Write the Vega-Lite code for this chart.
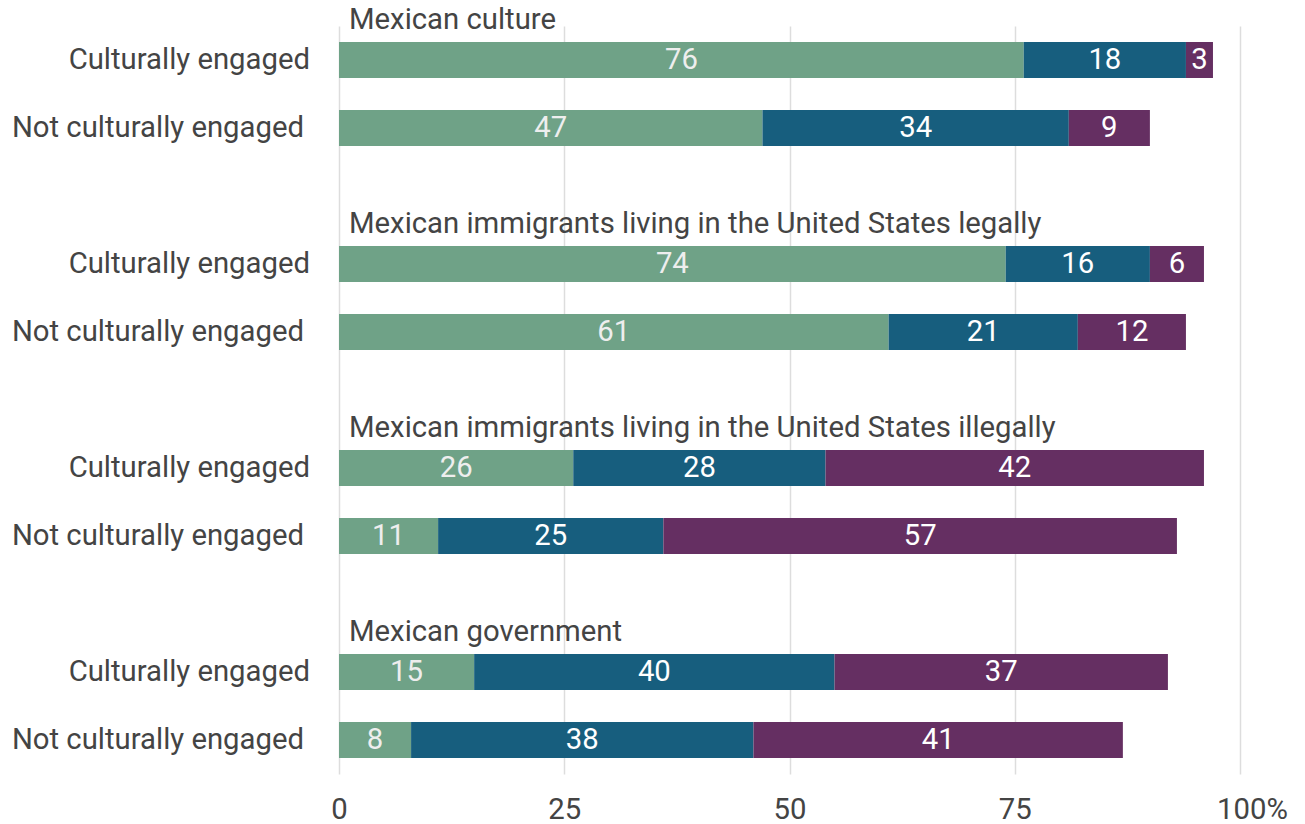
{
  "$schema": "https://vega.github.io/schema/vega-lite/v6.json",
  "width": 901,
  "height": 748,
  "autosize": "none",
  "padding": {"left": 339, "top": 26, "right": 65, "bottom": 50},
  "background": "white",
  "config": {"view": {"stroke": null}, "font": "Roboto"},
  "data": {
    "values": [
      {"group": "Mexican culture", "engagement": "Culturally engaged", "row": "Mexican culture|Culturally engaged", "response": "Favorable", "value": 76},
      {"group": "Mexican culture", "engagement": "Culturally engaged", "row": "Mexican culture|Culturally engaged", "response": "Neither", "value": 18},
      {"group": "Mexican culture", "engagement": "Culturally engaged", "row": "Mexican culture|Culturally engaged", "response": "Unfavorable", "value": 3},
      {"group": "Mexican culture", "engagement": "Not culturally engaged", "row": "Mexican culture|Not culturally engaged", "response": "Favorable", "value": 47},
      {"group": "Mexican culture", "engagement": "Not culturally engaged", "row": "Mexican culture|Not culturally engaged", "response": "Neither", "value": 34},
      {"group": "Mexican culture", "engagement": "Not culturally engaged", "row": "Mexican culture|Not culturally engaged", "response": "Unfavorable", "value": 9},
      {"group": "Mexican immigrants living in the United States legally", "engagement": "Culturally engaged", "row": "legal|Culturally engaged", "response": "Favorable", "value": 74},
      {"group": "Mexican immigrants living in the United States legally", "engagement": "Culturally engaged", "row": "legal|Culturally engaged", "response": "Neither", "value": 16},
      {"group": "Mexican immigrants living in the United States legally", "engagement": "Culturally engaged", "row": "legal|Culturally engaged", "response": "Unfavorable", "value": 6},
      {"group": "Mexican immigrants living in the United States legally", "engagement": "Not culturally engaged", "row": "legal|Not culturally engaged", "response": "Favorable", "value": 61},
      {"group": "Mexican immigrants living in the United States legally", "engagement": "Not culturally engaged", "row": "legal|Not culturally engaged", "response": "Neither", "value": 21},
      {"group": "Mexican immigrants living in the United States legally", "engagement": "Not culturally engaged", "row": "legal|Not culturally engaged", "response": "Unfavorable", "value": 12},
      {"group": "Mexican immigrants living in the United States illegally", "engagement": "Culturally engaged", "row": "illegal|Culturally engaged", "response": "Favorable", "value": 26},
      {"group": "Mexican immigrants living in the United States illegally", "engagement": "Culturally engaged", "row": "illegal|Culturally engaged", "response": "Neither", "value": 28},
      {"group": "Mexican immigrants living in the United States illegally", "engagement": "Culturally engaged", "row": "illegal|Culturally engaged", "response": "Unfavorable", "value": 42},
      {"group": "Mexican immigrants living in the United States illegally", "engagement": "Not culturally engaged", "row": "illegal|Not culturally engaged", "response": "Favorable", "value": 11},
      {"group": "Mexican immigrants living in the United States illegally", "engagement": "Not culturally engaged", "row": "illegal|Not culturally engaged", "response": "Neither", "value": 25},
      {"group": "Mexican immigrants living in the United States illegally", "engagement": "Not culturally engaged", "row": "illegal|Not culturally engaged", "response": "Unfavorable", "value": 57},
      {"group": "Mexican government", "engagement": "Culturally engaged", "row": "gov|Culturally engaged", "response": "Favorable", "value": 15},
      {"group": "Mexican government", "engagement": "Culturally engaged", "row": "gov|Culturally engaged", "response": "Neither", "value": 40},
      {"group": "Mexican government", "engagement": "Culturally engaged", "row": "gov|Culturally engaged", "response": "Unfavorable", "value": 37},
      {"group": "Mexican government", "engagement": "Not culturally engaged", "row": "gov|Not culturally engaged", "response": "Favorable", "value": 8},
      {"group": "Mexican government", "engagement": "Not culturally engaged", "row": "gov|Not culturally engaged", "response": "Neither", "value": 38},
      {"group": "Mexican government", "engagement": "Not culturally engaged", "row": "gov|Not culturally engaged", "response": "Unfavorable", "value": 41}
    ]
  },
  "transform": [
    {"stack": "value", "groupby": ["row"], "sort": [{"field": "response", "order": "ascending"}], "as": ["v0", "v1"]}
  ],
  "encoding": {
    "y": {
      "field": "row",
      "type": "nominal",
      "scale": {
        "domain": [
          "Mexican culture|Culturally engaged", "Mexican culture|Not culturally engaged", "gap1",
          "legal|Culturally engaged", "legal|Not culturally engaged", "gap2",
          "illegal|Culturally engaged", "illegal|Not culturally engaged", "gap3",
          "gov|Culturally engaged", "gov|Not culturally engaged"
        ],
        "paddingInner": 0,
        "paddingOuter": 0
      },
      "axis": null
    }
  },
  "layer": [
    {
      "mark": {"type": "bar", "height": 36},
      "encoding": {
        "x": {
          "field": "v0",
          "type": "quantitative",
          "scale": {"domain": [0, 100], "nice": false},
          "axis": {
            "title": null,
            "values": [0, 25, 50, 75, 100],
            "domain": false,
            "ticks": false,
            "tickSize": 0,
            "grid": true,
            "gridColor": "#dddddd",
            "gridWidth": 1.5,
            "labelFlush": false,
            "labelPadding": 21,
            "labelFontSize": 29.3,
            "labelColor": "#444444",
            "labelFont": "Roboto",
            "labelExpr": "datum.value == 100 ? '100%' : datum.label",
            "labelOffset": {"condition": {"test": "datum.value == 100", "value": 12}, "value": 0}
          }
        },
        "x2": {"field": "v1"},
        "color": {
          "field": "response",
          "type": "nominal",
          "scale": {"domain": ["Favorable", "Neither", "Unfavorable"], "range": ["#6fa287", "#175e7e", "#652f62"]},
          "legend": null
        }
      }
    },
    {
      "mark": {"type": "text", "fontSize": 29.3, "font": "Roboto", "baseline": "middle", "align": "center",
        "dx": {"expr": "(scale('x', datum.v1) - scale('x', datum.v0)) / 2"}},
      "encoding": {
        "x": {"field": "v0", "type": "quantitative"},
        "text": {"field": "value", "type": "quantitative"},
        "color": {"condition": {"test": "datum.response == 'Favorable'", "value": "#eeeeee"}, "value": "#ffffff"}
      }
    },
    {
      "transform": [{"filter": "datum.response == 'Favorable' && datum.engagement == 'Culturally engaged'"}],
      "mark": {"type": "text", "fontSize": 29.3, "font": "Roboto", "baseline": "middle", "align": "left", "dx": 10, "dy": -40, "color": "#444444"},
      "encoding": {
        "x": {"datum": 0, "type": "quantitative"},
        "text": {"field": "group"}
      }
    },
    {
      "transform": [{"filter": "datum.response == 'Favorable' && datum.engagement == 'Culturally engaged'"}],
      "mark": {"type": "text", "fontSize": 29.3, "font": "Roboto", "baseline": "middle", "align": "right", "dx": -29, "color": "#444444"},
      "encoding": {
        "x": {"datum": 0, "type": "quantitative"},
        "text": {"field": "engagement"}
      }
    },
    {
      "transform": [{"filter": "datum.response == 'Favorable' && datum.engagement == 'Not culturally engaged'"}],
      "mark": {"type": "text", "fontSize": 29.3, "font": "Roboto", "baseline": "middle", "align": "right", "dx": -35, "color": "#444444"},
      "encoding": {
        "x": {"datum": 0, "type": "quantitative"},
        "text": {"field": "engagement"}
      }
    }
  ]
}
